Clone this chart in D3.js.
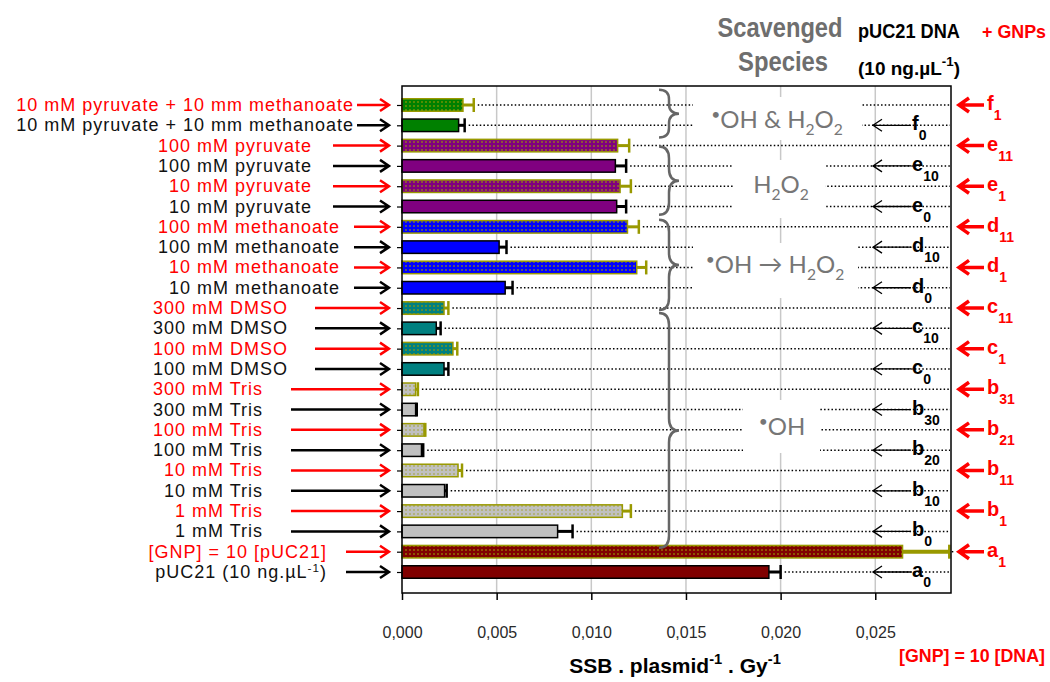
<!DOCTYPE html>
<html>
<head>
<meta charset="utf-8">
<script src="https://cdn.jsdelivr.net/npm/d3@7"></script>
<style>
  body { margin: 0; background: #fff; }
</style>
</head>
<body>
<div id="chart"></div>
<script>
'use strict';

// rows, top to bottom (letter = scavenger group, index 1 = with GNPs)
var rowIds = ['f1', 'f0', 'e11', 'e10', 'e1', 'e0', 'd11', 'd10', 'd1', 'd0', 'c11', 'c10',
  'c1', 'c0', 'b31', 'b30', 'b21', 'b20', 'b11', 'b10', 'b1', 'b0', 'a1', 'a0'];

var rowLabels = [
  '10 mM pyruvate + 10 mm methanoate', '10 mM pyruvate + 10 mm methanoate',
  '100 mM pyruvate', '100 mM pyruvate', '10 mM pyruvate', '10 mM pyruvate',
  '100 mM methanoate', '100 mM methanoate', '10 mM methanoate', '10 mM methanoate',
  '300 mM DMSO', '300 mM DMSO', '100 mM DMSO', '100 mM DMSO',
  '300 mM Tris', '300 mM Tris', '100 mM Tris', '100 mM Tris',
  '10  mM Tris', '10  mM Tris', '1  mM Tris', '1  mM Tris',
  '[GNP] = 10 [pUC21]', 'pUC21 (10 ng.\u00b5L^{-1})'
];

var withGNP = [true, false, true, false, true, false, true, false, true, false, true, false,
  true, false, true, false, true, false, true, false, true, false, true, false];

// SSB . plasmid-1 . Gy-1
var ssbValues = [0.00322, 0.00299, 0.01139, 0.01127, 0.01152, 0.01134, 0.01191, 0.00513,
  0.01240, 0.00545, 0.00222, 0.00181, 0.00269, 0.00222, 0.00072, 0.00072, 0.00116, 0.00103,
  0.00296, 0.00225, 0.01164, 0.00822, 0.02644, 0.01938];

var ssbErrors = [0.00057, 0.00032, 0.00061, 0.00057, 0.00057, 0.00050, 0.00060, 0.00039,
  0.00050, 0.00039, 0.00023, 0.00023, 0.00023, 0.00023, 0.00012, 0.00006, 0.00007, 0.00009,
  0.00021, 0.00011, 0.00045, 0.00079, 0.00247, 0.00062];

var xTicks = [0, 0.005, 0.010, 0.015, 0.020, 0.025];

var groupColors = { f: '#008000', e: '#800080', d: '#0000ff', c: '#008080', b: '#c0c0c0', a: '#800000' };

// scavenged species, with the rows each brace spans (fractional row positions)
var speciesLabels = ['^{\u2022}OH & H_{2}O_{2}', 'H_{2}O_{2}', '^{\u2022}OH \u2192 H_{2}O_{2}', '^{\u2022}OH'];
var speciesBraces = [[-0.75, 1.6], [2.05, 5.4], [5.65, 10.1], [10.25, 21.8]];

/* ---------- layout ---------- */
var W = 1050, H = 682;
var plotL = 402, plotR = 951, plotT = 86, plotB = 593;
var olive = '#999900';
var labelFont = '"Liberation Sans", Arial, sans-serif';
var speciesFont = 'Lato, "Open Sans", sans-serif';
var narrowFont = '"Liberation Sans Narrow", "Liberation Sans", Arial, sans-serif';

// where each group's label ends and its arrow starts
var labelEnd = { f: 354, e: 312, d: 340, c: 288, b: 263, a: 327 };
var arrowStart = { f: 357, e: 333, d: 354, c: 315, b: 291, a: 346 };

// white boxes behind the species texts: [x0, x1, y0, y1] and text centre/baseline
var speciesBoxes = [[693, 862, 97, 140], [733, 825, 160, 218], [693, 858, 243, 298], [743, 820, 400, 453]];
var speciesText = [[777, 128], [781, 193], [775, 273], [782, 435]];

var svg = d3.select('#chart').append('svg')
  .attr('width', W)
  .attr('height', H)
  .style('font-family', labelFont);

var x = d3.scaleLinear().domain([0, 0.029]).range([plotL, plotR]);
var y = d3.scalePoint().domain(rowIds).range([105, 572]);
var step = y.step();
var barH = 12.5;

var locale = d3.formatLocale({ decimal: ',', thousands: '.', grouping: [3], currency: ['', ''] });
var fmt = locale.format('.3f');

function group(id) { return id.charAt(0); }

// text with ^{sup} and _{sub} parts
function richText(sel, str, size, rise, drop, scale) {
  var parts = str.split(/([\^_]\{[^}]*\})/);
  var shift = 0;
  parts.forEach(function(p) {
    if (!p) { return; }
    var m = p.match(/^([\^_])\{(.*)\}$/);
    if (m) {
      var d = m[1] === '^' ? -size * rise : size * drop;
      sel.append('tspan').attr('dy', d - shift).attr('font-size', size * scale).text(m[2]);
      shift = d;
    } else {
      sel.append('tspan').attr('dy', -shift).text(p);
      shift = 0;
    }
  });
}

/* ---------- patterns for GNP bars ---------- */
var defs = svg.append('defs');
Object.keys(groupColors).forEach(function(k) {
  var base = groupColors[k];
  var dot = d3.interpolateRgb(base, olive)(k === 'b' ? 0.35 : 0.55);
  var p = defs.append('pattern')
    .attr('id', 'dots-' + k)
    .attr('width', 4).attr('height', 4)
    .attr('patternUnits', 'userSpaceOnUse');
  p.append('rect').attr('width', 4).attr('height', 4).attr('fill', base);
  p.append('rect').attr('x', 1).attr('y', 1).attr('width', 2).attr('height', 2).attr('fill', dot);
});

/* ---------- grid ---------- */
svg.append('g').selectAll('line')
  .data(xTicks.slice(1))
  .join('line')
  .attr('x1', function(d) { return x(d); })
  .attr('x2', function(d) { return x(d); })
  .attr('y1', plotT).attr('y2', plotB)
  .style('stroke', '#c8c8c8')
  .style('stroke-width', 1.5);

// dotted row guides from error bar to frame
svg.append('g').selectAll('line')
  .data(rowIds)
  .join('line')
  .attr('x1', function(d, i) { return x(ssbValues[i] + ssbErrors[i]) + 4; })
  .attr('x2', plotR - 1)
  .attr('y1', function(d) { return y(d); })
  .attr('y2', function(d) { return y(d); })
  .style('stroke', '#000')
  .style('stroke-width', 1.5)
  .style('stroke-dasharray', '1.5,2.2');

/* ---------- species boxes + texts ---------- */
svg.append('g').selectAll('rect')
  .data(speciesBoxes)
  .join('rect')
  .attr('x', function(d) { return d[0]; })
  .attr('y', function(d) { return d[2]; })
  .attr('width', function(d) { return d[1] - d[0]; })
  .attr('height', function(d) { return d[3] - d[2]; })
  .style('fill', '#fff');

speciesLabels.forEach(function(s, i) {
  var t = svg.append('text')
    .attr('x', speciesText[i][0])
    .attr('y', speciesText[i][1])
    .attr('text-anchor', 'middle')
    .attr('font-size', 24)
    .style('font-family', speciesFont)
    .style('fill', '#767676');
  richText(t, s, 24, 0.35, 0.3, 0.65);
});

/* ---------- bars ---------- */
svg.append('g').selectAll('rect')
  .data(rowIds)
  .join('rect')
  .attr('x', x(0))
  .attr('y', function(d) { return y(d) - barH / 2; })
  .attr('width', function(d, i) { return x(ssbValues[i]) - x(0); })
  .attr('height', barH)
  .style('fill', function(d, i) { return withGNP[i] ? 'url(#dots-' + group(d) + ')' : groupColors[group(d)]; })
  .style('stroke', function(d, i) { return withGNP[i] ? olive : '#000'; })
  .style('stroke-width', 1.5);

// one-sided error bars
var err = svg.append('g');
rowIds.forEach(function(d, i) {
  var c = withGNP[i] ? olive : '#000';
  var x1 = x(ssbValues[i]), x2 = x(ssbValues[i] + ssbErrors[i]);
  err.append('line')
    .attr('x1', x1).attr('x2', x2)
    .attr('y1', y(d)).attr('y2', y(d))
    .style('stroke', c)
    .style('stroke-width', d === 'a1' ? 4 : 3);
  err.append('line')
    .attr('x1', x2).attr('x2', x2)
    .attr('y1', y(d) - 7).attr('y2', y(d) + 7)
    .style('stroke', c)
    .style('stroke-width', 2.5);
});

/* ---------- braces ---------- */
function bracePath(x0, y0, y1, w) {
  var ym = (y0 + y1) / 2, xm = x0 + w * 0.5;
  var r = Math.min(12, (y1 - y0) / 5);
  return 'M' + x0 + ',' + y0 +
    ' Q' + xm + ',' + y0 + ' ' + xm + ',' + (y0 + r) +
    ' L' + xm + ',' + (ym - r) +
    ' Q' + xm + ',' + ym + ' ' + (x0 + w) + ',' + ym +
    ' Q' + xm + ',' + ym + ' ' + xm + ',' + (ym + r) +
    ' L' + xm + ',' + (y1 - r) +
    ' Q' + xm + ',' + y1 + ' ' + x0 + ',' + y1;
}

svg.append('g').selectAll('path')
  .data(speciesBraces)
  .join('path')
  .attr('d', function(d) { return bracePath(659, y.range()[0] + d[0] * step, y.range()[0] + d[1] * step, 20); })
  .style('fill', 'none')
  .style('stroke', '#666')
  .style('stroke-width', 2.5);

/* ---------- axes + frame ---------- */
var xAxis = svg.append('g')
  .attr('transform', 'translate(0,' + plotB + ')')
  .call(d3.axisBottom(x).tickValues(xTicks).tickFormat(fmt).tickSize(7).tickPadding(27));
xAxis.select('.domain').remove();
xAxis.selectAll('line').style('stroke', '#000').style('stroke-width', 1.5);
xAxis.selectAll('text')
  .style('font-family', narrowFont)
  .style('font-size', '16px')
  .style('fill', '#2a2a2a');

var yAxis = svg.append('g')
  .attr('transform', 'translate(' + plotL + ',0)')
  .call(d3.axisLeft(y).tickSize(5).tickFormat(''));
yAxis.select('.domain').remove();
yAxis.selectAll('line').style('stroke', '#000').style('stroke-width', 1.2);

svg.append('rect')
  .attr('x', plotL).attr('y', plotT)
  .attr('width', plotR - plotL).attr('height', plotB - plotT)
  .style('fill', 'none')
  .style('stroke', '#000')
  .style('stroke-width', 1.5);

/* ---------- left labels + arrows ---------- */
rowIds.forEach(function(d, i) {
  var c = withGNP[i] ? '#ff0000' : '#111';
  var yy = y(d);
  var t = svg.append('text')
    .attr('x', labelEnd[group(d)])
    .attr('y', yy + 6)
    .attr('text-anchor', 'end')
    .attr('font-size', 18)
    .attr('letter-spacing', 1)
    .style('fill', c);
  richText(t, rowLabels[i], 18, 0.35, 0.3, 0.65);

  svg.append('path')
    .attr('d', 'M' + arrowStart[group(d)] + ',' + yy + ' L389,' + yy + ' M380,' + (yy - 6) + ' L389,' + yy + ' L380,' + (yy + 6))
    .style('fill', 'none')
    .style('stroke', withGNP[i] ? '#ff0000' : '#000')
    .style('stroke-width', 2.5);
});

/* ---------- right row codes ---------- */
rowIds.forEach(function(d, i) {
  var yy = y(d);
  var code = group(d) + '_{' + d.slice(1) + '}';
  if (withGNP[i]) {
    svg.append('path')
      .attr('d', 'M984,' + yy + ' L960,' + yy + ' M969,' + (yy - 7) + ' L959,' + yy + ' L969,' + (yy + 7))
      .style('fill', 'none')
      .style('stroke', '#ff0000')
      .style('stroke-width', 3.5);
    var t = svg.append('text')
      .attr('x', 987).attr('y', yy + 5)
      .attr('font-size', 20)
      .attr('font-weight', 'bold')
      .style('font-family', narrowFont)
      .style('fill', '#ff0000');
    richText(t, code, 20, 0.4, 0.5, 0.7);
  } else {
    svg.append('path')
      .attr('d', 'M911,' + yy + ' L874,' + yy + ' M882,' + (yy - 6) + ' L873,' + yy + ' L882,' + (yy + 6))
      .style('fill', 'none')
      .style('stroke', '#000')
      .style('stroke-width', 1.3);
    var t2 = svg.append('text')
      .attr('x', 912).attr('y', yy + 5)
      .attr('font-size', 20)
      .attr('font-weight', 'bold')
      .style('font-family', narrowFont)
      .style('fill', '#000');
    richText(t2, code, 20, 0.4, 0.5, 0.7);
  }
});

/* ---------- headers ---------- */
function header(str, xx, yy, size, color, anchor, len) {
  var t = svg.append('text')
    .attr('x', xx).attr('y', yy)
    .attr('text-anchor', anchor || 'middle')
    .attr('font-size', size)
    .attr('font-weight', 'bold')
    .style('font-family', narrowFont)
    .style('fill', color);
  if (len) {
    // squeeze to the narrow width of the original
    t.attr('textLength', len).attr('lengthAdjust', 'spacingAndGlyphs').text(str);
  } else {
    richText(t, str, size, 0.45, 0.3, 0.7);
  }
  return t;
}

header('Scavenged', 780, 37, 28, '#6e6e6e', 'middle', 125);
header('Species', 783, 71, 28, '#6e6e6e', 'middle', 90);
header('pUC21 DNA', 858, 38, 20, '#000', 'start', 102);
header('(10 ng.\u00b5L^{-1})', 858, 75, 19, '#000', 'start');
header('+ GNPs', 982, 38, 18, '#ff0000', 'start', 64);
header('SSB . plasmid^{-1} . Gy^{-1}', 675, 673, 21, '#000');
header('[GNP] = 10 [DNA]', 899, 662, 18, '#ff0000', 'start', 146);
</script>
</body>
</html>
